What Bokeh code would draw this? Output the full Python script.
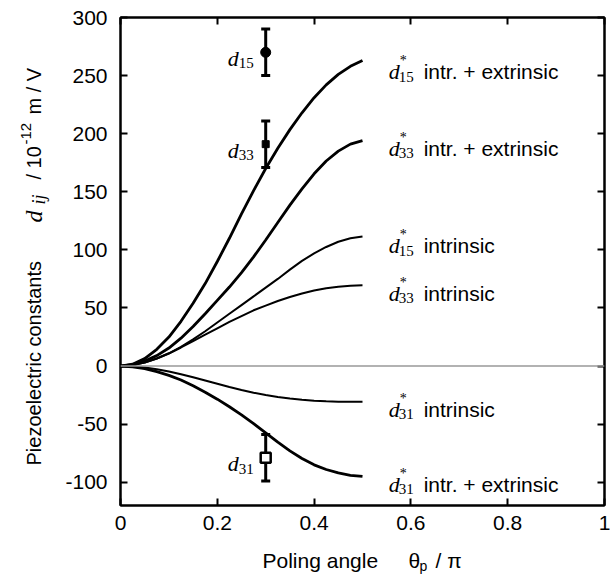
import math
from bokeh.plotting import figure
from bokeh.layouts import row, column
from bokeh.models import (ColumnDataSource, Label, Span, Whisker, TeeHead,
                          LinearAxis, FixedTicker, Range1d, CustomLabelingPolicy)
from bokeh.embed import file_html
from bokeh.resources import INLINE

# ---------------- data ----------------
theta = [0, 0.025, 0.05, 0.075, 0.1, 0.125, 0.15, 0.175, 0.2, 0.225, 0.25,
         0.275, 0.3, 0.325, 0.35, 0.375, 0.4, 0.425, 0.45, 0.475, 0.5]

d15_ie = [0, 1.6, 6.4, 14.4, 25, 38.5, 54, 71, 90, 110, 131,
          151, 170, 187.5, 203.5, 218, 231, 242, 251, 258, 263]
d33_ie = [0, 1.2, 4.3, 9, 15.5, 24, 34, 45, 56.5, 68, 80.5,
          94, 108.5, 123.5, 138.5, 152.5, 165.5, 176.5, 185, 191, 194]
d15_in = [0, 0.8, 3, 6.5, 11, 16.5, 23, 30, 37.5, 45, 52.5,
          60, 67.5, 75, 83, 90.5, 97, 102.5, 107, 110, 111.5]
d33_in = [0, 0.8, 3, 6.5, 10.8, 16, 21.5, 27, 32.5, 38, 43,
          48, 52, 56, 59.5, 62.5, 65, 67, 68.3, 69.2, 69.5]
d31_in = [0, -0.3, -1.2, -2.7, -4.6, -7, -9.6, -12.4, -15.2, -18, -20.6,
          -22.9, -24.9, -26.6, -28, -29, -29.8, -30.3, -30.6, -30.8, -30.8]
d31_ie = [0, -0.6, -2.2, -4.8, -8, -12, -17, -22.5, -28.5, -35, -42,
          -49.5, -57.5, -65.5, -73, -79.5, -85, -89, -92, -94, -95]

exp_x = [0.3, 0.3, 0.3]
exp_sub = ["15", "33", "31"]
exp_val = [270, 191, -79]
exp_err = [20, 20, 20]

x_ticks = [0, 0.2, 0.4, 0.6, 0.8, 1]
x_tick_labels = ["0", "0.2", "0.4", "0.6", "0.8", "1"]
y_ticks = [-100, -50, 0, 50, 100, 150, 200, 250, 300]
y_tick_labels = ["-100", "-50", "0", "50", "100", "150", "200", "250", "300"]

curve_subs = ["15", "33", "15", "33", "31", "31"]
curve_texts = ["intr. + extrinsic", "intr. + extrinsic", "intrinsic",
               "intrinsic", "intrinsic", "intr. + extrinsic"]

SANS = "Liberation Sans"
SERIF = "Liberation Serif"

LEFT_W = 50      # width of the strip holding the y-axis title
BOTTOM_H = 31    # height of the strip holding the x-axis title
FRAME_W = 484
MAIN_W = (120 - LEFT_W) + FRAME_W + 6
MAIN_H = 17 + 488 + 40

# ---------------- main figure ----------------
p = figure(frame_width=FRAME_W, frame_height=488,
           x_range=Range1d(0, 1), y_range=Range1d(-120, 300),
           output_backend="svg", toolbar_location=None,
           min_border_left=120 - LEFT_W, min_border_right=6,
           min_border_top=17, min_border_bottom=40)
p.grid.visible = False
p.outline_line_color = "black"
p.outline_line_width = 2
p.background_fill_color = "white"
p.border_fill_color = "white"

for ax in (p.xaxis[0], p.yaxis[0]):
    ax.axis_line_width = 2
    ax.major_tick_in = 7
    ax.major_tick_out = 0
    ax.major_tick_line_width = 2
    ax.minor_tick_line_color = None
    ax.major_label_text_font = SANS
    ax.major_label_text_font_size = "21px"
    ax.major_label_text_color = "black"

p.xaxis.ticker = FixedTicker(ticks=x_ticks)
p.xaxis.major_label_overrides = {t: s for t, s in zip(x_ticks, x_tick_labels)}
p.xaxis.major_label_standoff = 10
p.yaxis.ticker = FixedTicker(ticks=y_ticks)
p.yaxis.major_label_overrides = {t: s for t, s in zip(y_ticks, y_tick_labels)}
p.yaxis.major_label_standoff = 13

no_labels = "return new Set()"
top = LinearAxis(ticker=FixedTicker(ticks=x_ticks),
                 major_label_policy=CustomLabelingPolicy(code=no_labels),
                 major_tick_in=7, major_tick_out=0, major_tick_line_width=2,
                 minor_tick_line_color=None, major_label_standoff=0, axis_line_width=2)
right = LinearAxis(ticker=FixedTicker(ticks=y_ticks),
                   major_label_policy=CustomLabelingPolicy(code=no_labels),
                   major_tick_in=7, major_tick_out=0, major_tick_line_width=2,
                   minor_tick_line_color=None, major_label_standoff=0, axis_line_width=2)
p.add_layout(top, "above")
p.add_layout(right, "right")

p.add_layout(Span(location=0, dimension="width", line_color="#999999", line_width=1.5))

src = ColumnDataSource(dict(theta=theta, d15_ie=d15_ie, d33_ie=d33_ie, d15_in=d15_in,
                            d33_in=d33_in, d31_in=d31_in, d31_ie=d31_ie))
series = ["d15_ie", "d33_ie", "d15_in", "d33_in", "d31_in", "d31_ie"]
widths = [2.8, 2.8, 2.0, 2.0, 2.0, 2.8]
for s, w in zip(series, widths):
    p.line("theta", s, source=src, line_color="black", line_width=w)

# experimental values with error bars
esrc = ColumnDataSource(dict(x=exp_x, v=exp_val,
                             lo=[v - e for v, e in zip(exp_val, exp_err)],
                             hi=[v + e for v, e in zip(exp_val, exp_err)]))
p.add_layout(Whisker(source=esrc, base="x", lower="lo", upper="hi", dimension="height",
                     line_width=3, line_color="black",
                     lower_head=TeeHead(size=9, line_width=3, line_color="black"),
                     upper_head=TeeHead(size=9, line_width=3, line_color="black")))
p.scatter([exp_x[0]], [exp_val[0]], marker="circle", size=10, color="black")
p.scatter([exp_x[1]], [exp_val[1]], marker="square", size=7, color="black")
p.scatter([exp_x[2]], [exp_val[2]], marker="square", size=10, fill_color="white",
          line_color="black", line_width=2.5)


def lab(fig, x, y, text, font=SANS, size=21, style="normal", xo=0, yo=0, angle=0,
        align="left", units="data"):
    fig.add_layout(Label(x=x, y=y, x_units=units, y_units=units, text=text,
                         text_font=font, text_font_size=f"{size}px",
                         text_font_style=style, x_offset=xo, y_offset=yo, angle=angle,
                         text_align=align, text_baseline="alphabetic",
                         text_color="black"))


# labels next to experimental points
for xv, v, sub in zip(exp_x, exp_val, exp_sub):
    lab(p, xv, v, sub, SERIF, 15, "normal", xo=-12, yo=-11, align="right")
    lab(p, xv, v, "d", SERIF, 22, "italic", xo=-27, yo=-6, align="right")

# labels at the end of the curves
label_x = 0.554
label_base = [253.1, 187.5, 103.6, 62.5, -37, -101.7]
for yb, sub, txt in zip(label_base, curve_subs, curve_texts):
    lab(p, label_x, yb, "d", SERIF, 22, "italic")
    lab(p, label_x, yb, "*", SERIF, 14, "normal", xo=11, yo=11)
    lab(p, label_x, yb, sub, SERIF, 15, "normal", xo=10, yo=-5)
    lab(p, label_x, yb, txt, SANS, 21, xo=35)


def strip(w, h):
    f = figure(width=w, height=h, x_axis_type=None, y_axis_type=None,
               output_backend="svg", toolbar_location=None, min_border=0,
               x_range=Range1d(0, 1), y_range=Range1d(0, 1))
    f.outline_line_color = None
    f.background_fill_color = "white"
    f.border_fill_color = "white"
    return f


# y axis title (rotated), in a strip left of the main plot
ly = strip(LEFT_W, MAIN_H)
yx, yy = 33, 40
rot = math.pi / 2
lab(ly, yx, yy, "Piezoelectric constants", SANS, 20, angle=rot, units="screen")
lab(ly, yx, yy, "d", SERIF, 24, "italic", yo=243, angle=rot, units="screen")
lab(ly, yx, yy, "ij", SERIF, 18, "italic", xo=5, yo=261, angle=rot, units="screen")
lab(ly, yx, yy, "/ 10", SANS, 20, yo=286, angle=rot, units="screen")
lab(ly, yx, yy, "-12", SANS, 15, xo=-8, yo=321, angle=rot, units="screen")
lab(ly, yx, yy, "m / V", SANS, 20, yo=351, angle=rot, units="screen")

# x axis title, in a strip below the main plot
lx = strip(LEFT_W + MAIN_W, BOTTOM_H)
xa, ya = 262, 16
lab(lx, xa, ya, "Poling angle", SANS, 21, units="screen")
lab(lx, xa, ya, "\u03b8", SANS, 21, xo=146, units="screen")
lab(lx, xa, ya, "p", SANS, 14, xo=157, yo=-5, units="screen")
lab(lx, xa, ya, "/ \u03c0", SANS, 21, xo=173, units="screen")

layout = column(row(ly, p, spacing=0), lx, spacing=0)

open("out.html", "w").write(file_html(layout, INLINE))
